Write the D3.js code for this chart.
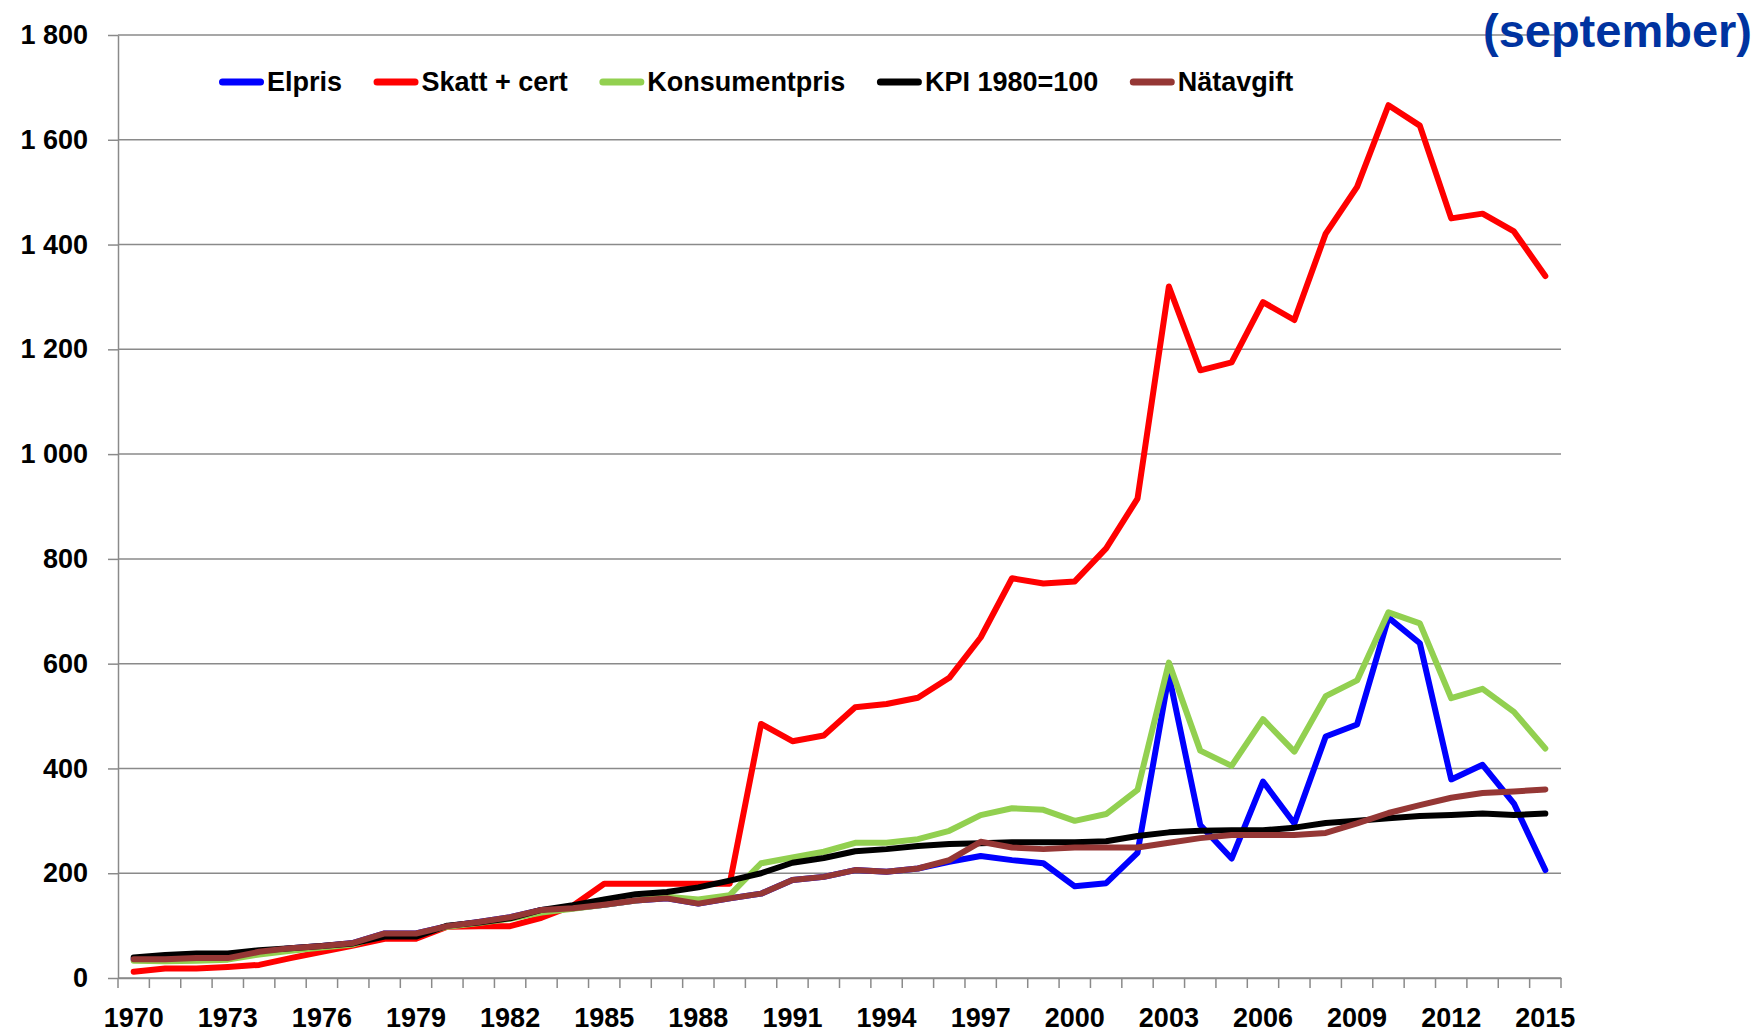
<!DOCTYPE html>
<html lang="sv">
<head>
<meta charset="UTF-8">
<title>Elpris, skatt och nätavgift (september)</title>
<script src="https://d3js.org/d3.v7.min.js"></script>
<style>
  body { margin: 0; background: #fff; font-family: "Liberation Sans", Arial, sans-serif; }
  .axis text { font-size: 27px; font-weight: bold; fill: #000; font-family: "Liberation Sans", Arial, sans-serif; }
  .axis path, .axis line { stroke: #8a8a8a; stroke-width: 1.5; }
  .grid line { stroke: #8a8a8a; stroke-width: 1.5; }
  .serie { fill: none; stroke-width: 6; stroke-linejoin: round; stroke-linecap: round; }
  .legend text { font-size: 27px; font-weight: bold; fill: #000; }
</style>
</head>
<body>
<svg width="1759" height="1033"></svg>
<script>
// år (kategorier)
const years = [1970, 1971, 1972, 1973, 1974, 1975, 1976, 1977, 1978, 1979,
               1980, 1981, 1982, 1983, 1984, 1985, 1986, 1987, 1988, 1989,
               1990, 1991, 1992, 1993, 1994, 1995, 1996, 1997, 1998, 1999,
               2000, 2001, 2002, 2003, 2004, 2005, 2006, 2007, 2008, 2009,
               2010, 2011, 2012, 2013, 2014, 2015];

const elpris = [36, 36, 38, 38, 50, 57, 61, 67, 85, 85,
                99, 107, 116, 130, 133, 140, 148, 152, 142, 152,
                161, 187, 193, 206, 203, 209, 222, 233, 225, 219,
                175, 181, 239, 578, 292, 228, 375, 295, 461, 484,
                688, 639, 379, 407, 333, 206];

const skatt = [12, 18, 18, 21, 25, 38, 50, 62, 75, 75,
               98, 99, 99, 115, 138, 180, 180, 180, 180, 180,
               485, 452, 463, 517, 523, 535, 573, 650, 763, 753,
               757, 820, 915, 1320, 1160, 1175, 1290, 1256, 1421, 1510,
               1666, 1627, 1450, 1459, 1425, 1340];

const konsumentpris = [33, 32, 33, 35, 45, 52, 58, 64, 83, 83,
                       98, 105, 113, 125, 132, 140, 148, 155, 150, 158,
                       219, 230, 241, 258, 258, 265, 281, 311, 324, 321,
                       300, 313, 359, 602, 434, 405, 494, 432, 538, 568,
                       698, 677, 534, 552, 508, 438];

const kpi = [39, 44, 47, 47, 53, 57, 61, 66, 79, 79,
             100, 106, 114, 130, 139, 150, 160, 164, 173, 186,
             200, 220, 229, 242, 246, 252, 256, 257, 259, 259,
             259, 261, 271, 278, 281, 282, 282, 287, 296, 300,
             305, 309, 311, 314, 311, 314];

const natavgift = [36, 36, 38, 38, 50, 57, 61, 67, 85, 85,
                   99, 107, 116, 130, 133, 140, 148, 152, 142, 152,
                   161, 187, 193, 206, 203, 209, 225, 260, 249, 246,
                   249, 249, 249, 258, 267, 273, 273, 273, 277, 295,
                   315, 330, 344, 353, 356, 360];

const yTicks = [0, 200, 400, 600, 800, 1000, 1200, 1400, 1600, 1800];
const xLabels = [1970, 1973, 1976, 1979, 1982, 1985, 1988, 1991, 1994, 1997, 2000, 2003, 2006, 2009, 2012, 2015];

const series = [
  { namn: "Elpris", varden: elpris, farg: "#0000ff" },
  { namn: "Skatt + cert", varden: skatt, farg: "#ff0000" },
  { namn: "Konsumentpris", varden: konsumentpris, farg: "#92d050" },
  { namn: "KPI 1980=100", varden: kpi, farg: "#000000" },
  { namn: "Nätavgift", varden: natavgift, farg: "#953735" }
];

const svg = d3.select("svg");
const plotLeft = 118, plotRight = 1561, plotTop = 35, plotBottom = 978;

const x = d3.scaleBand().domain(years).range([plotLeft, plotRight]).padding(0);
const y = d3.scaleLinear().domain([0, 1800]).range([plotBottom, plotTop]);

const sv = d3.formatLocale({ decimal: ",", thousands: " ", grouping: [3], currency: ["", " kr"] });
const fmt = sv.format(",");

// rutnät
svg.append("g").attr("class", "grid")
  .selectAll("line").data(yTicks).enter().append("line")
  .attr("x1", plotLeft).attr("x2", plotRight)
  .attr("y1", d => y(d)).attr("y2", d => y(d));

// y-axel
svg.append("g").attr("class", "axis")
  .attr("transform", `translate(${plotLeft},0)`)
  .call(d3.axisLeft(y).tickValues(yTicks).tickSize(10).tickSizeOuter(0).tickPadding(20).tickFormat(fmt));

// x-axel
const xAxis = svg.append("g").attr("class", "axis")
  .attr("transform", `translate(0,${plotBottom})`)
  .call(d3.axisBottom(x).tickValues(xLabels).tickSize(0).tickSizeOuter(0).tickPadding(30));

// tickmarkeringar mellan kategorierna
xAxis.append("g").selectAll("line")
  .data(years.map(d => x(d)).concat([plotRight]))
  .enter().append("line")
  .attr("x1", d => d).attr("x2", d => d)
  .attr("y1", 0).attr("y2", 10);

// linjer
const line = d3.line()
  .x((d, i) => x(years[i]) + x.bandwidth() / 2)
  .y(d => y(d));

svg.append("g").selectAll("path")
  .data(series).enter().append("path")
  .attr("class", "serie")
  .attr("stroke", d => d.farg)
  .attr("d", d => line(d.varden));

// teckenförklaring
const legend = svg.append("g").attr("class", "legend");
let lx = 219;
series.forEach(s => {
  const g = legend.append("g");
  g.append("line")
    .attr("x1", lx + 3.5).attr("x2", lx + 41.5)
    .attr("y1", 82).attr("y2", 82)
    .attr("stroke", s.farg).attr("stroke-width", 7).attr("stroke-linecap", "round");
  const t = g.append("text")
    .attr("x", lx + 48).attr("y", 82).attr("dy", "0.35em")
    .text(s.namn);
  lx = lx + 48 + t.node().getComputedTextLength() + 31.5;
});

// rubrik
svg.append("text")
  .attr("x", 1752).attr("y", 47)
  .attr("text-anchor", "end")
  .style("font-size", "47px").style("font-weight", "bold")
  .attr("fill", "#0033a0")
  .text("(september)");
</script>
</body>
</html>
